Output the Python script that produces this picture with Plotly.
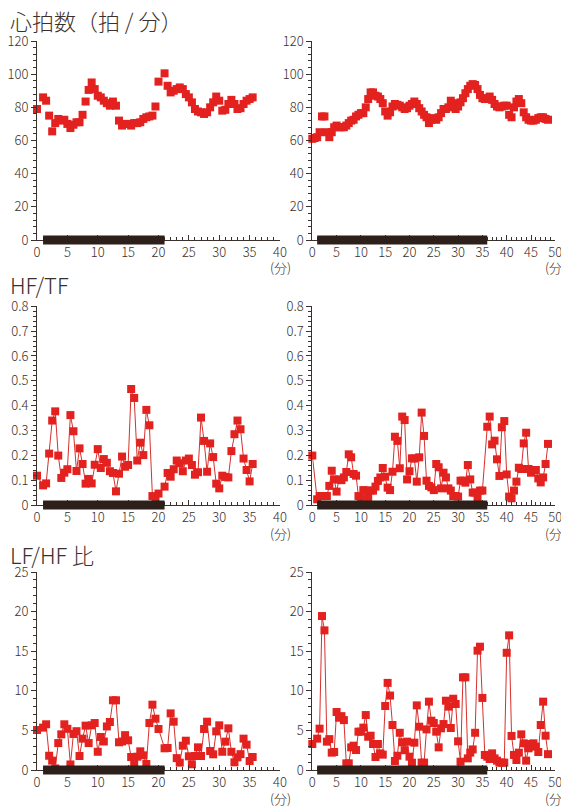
import plotly.graph_objects as go
from plotly.subplots import make_subplots

# ---------------- data ----------------
# left session (40-min axis)
t_left = [0, 1, 1.5, 2, 2.5, 3, 3.5, 4, 4.5, 5,
          5.5, 6, 6.5, 7, 7.5, 8, 8.5, 9, 9.5, 10,
          10.5, 11, 11.5, 12, 12.5, 13, 13.5, 14, 14.5, 15,
          15.5, 16, 16.5, 17, 17.5, 18, 18.5, 19, 19.5, 20,
          21, 21.5, 22, 22.5, 23, 23.5, 24, 24.5, 25, 25.5,
          26, 26.5, 27, 27.5, 28, 28.5, 29, 29.5, 30, 30.5,
          31, 31.5, 32, 32.5, 33, 33.5, 34, 34.5, 35, 35.5]

hr_left = [79, 86, 84, 75, 65.5, 70.5, 73, 72, 72.5, 70,
           67.5, 69.5, 71, 71, 75.5, 83.5, 90.5, 95, 91, 87,
           86, 84, 82.5, 81, 83.5, 81, 72, 69, 70, 70,
           69, 70.5, 70.5, 71, 73, 74, 74.5, 75, 80.5, 95.5,
           100.5, 93, 89, 90, 91, 92, 91, 88, 86, 83,
           79, 77.5, 77, 76, 77, 80, 83, 86.5, 84, 78,
           78.5, 82, 84.5, 82, 79, 79.5, 82, 84, 85, 86]

hftf_left = [0.118, 0.079, 0.087, 0.207, 0.34, 0.377, 0.199, 0.109, 0.13, 0.144,
             0.362, 0.297, 0.137, 0.228, 0.165, 0.086, 0.105, 0.087, 0.162, 0.225,
             0.149, 0.185, 0.17, 0.136, 0.129, 0.055, 0.126, 0.195, 0.154, 0.161,
             0.467, 0.431, 0.179, 0.251, 0.201, 0.383, 0.321, 0.036, 0.03, 0.046,
             0.074, 0.129, 0.114, 0.144, 0.179, 0.168, 0.136, 0.179, 0.187, 0.161,
             0.122, 0.132, 0.352, 0.258, 0.134, 0.248, 0.193, 0.086, 0.067, 0.118,
             0.113, 0.111, 0.217, 0.285, 0.34, 0.305, 0.187, 0.141, 0.095, 0.165]

lfhf_left = [5.05, 5.35, 5.77, 1.8, 1.18, 0.2, 3.4, 4.5, 5.77, 5.2,
             0.7, 4.55, 4.9, 1.77, 3.96, 5.6, 3.4, 5.64, 5.93, 2.3,
             4.17, 3.6, 5.5, 6.06, 8.8, 8.8, 3.5, 3.6, 4.4, 3.75,
             1.64, 0.97, 1.68, 2.36, 1.85, 0.76, 5.93, 8.25, 6.48, 5.18,
             2.74, 2.78, 7.15, 6.1, 1.5, 0.93, 3.07, 3.7, 1.73, 0.72,
             1.77, 2.86, 1.77, 5.18, 6.1, 2.4, 1.98, 4.88, 5.64, 2.3,
             3.58, 5.26, 2.3, 0.97, 1.6, 2.0, 3.96, 3.2, 1.14, 1.64]

# right session (50-min axis)
t_right_hr = [0, 0.5, 1, 1.5, 2, 2.5, 3, 3.5, 4, 4.5,
              5, 5.5, 6, 6.5, 7, 7.5, 8, 8.5, 9, 9.5,
              10, 10.5, 11, 11.5, 12, 12.5, 13, 13.5, 14, 14.5,
              15, 15.5, 16, 16.5, 17, 17.5, 18, 18.5, 19, 19.5,
              20, 20.5, 21, 21.5, 22, 22.5, 23, 23.5, 24, 24.5,
              25, 25.5, 26, 26.5, 27, 27.5, 28, 28.5, 29, 29.5,
              30, 30.5, 31, 31.5, 32, 32.5, 33, 33.5, 34, 34.5,
              35, 35.5, 36, 36.5, 37, 37.5, 38, 38.5, 39, 39.5,
              40, 40.5, 41, 41.5, 42, 42.5, 43, 43.5, 44, 44.5,
              45, 45.5, 46, 46.5, 47, 47.5, 48, 48.5]

hr_right = [61, 61.5, 62, 65, 74.5, 74.5, 65, 62, 65, 68,
            69, 68, 68, 68, 69, 70.5, 72, 72.5, 74.5, 75.5,
            76.5, 76.5, 80, 85, 89, 89, 87, 86.5, 85, 82.5,
            77.5, 75, 77, 80.5, 82, 81.5, 81, 80, 79, 79.5,
            81, 82, 83.5, 82, 79.5, 77.5, 75.5, 74, 70.5, 72.5,
            73.5, 72.5, 74, 76.5, 79, 79, 80, 84, 82.5, 79,
            80.5, 83, 85.5, 88.5, 91, 93, 94, 93.5, 91, 87.5,
            85.5, 85, 85.5, 86.5, 84.5, 82, 80.5, 80, 80.5, 81,
            81, 75.5, 74, 80, 83.5, 85, 82.5, 77, 74, 72.5,
            72, 72, 72.5, 73.5, 74, 74, 73, 72.5]

t_right_hftf = [0,
                1, 1.5, 2, 2.5, 3, 3.5, 4, 4.5, 5,
                5.5, 6, 6.5, 7, 7.5, 8, 8.5, 9, 9.5, 10,
                10.5, 11, 11.5, 12, 12.5, 13, 13.5, 14, 14.5, 15,
                15.5, 16, 16.5, 17, 17.5, 18, 18.5, 19, 19.5, 20,
                20.5, 21, 21.5, 22, 22.5, 23, 23.5, 24, 24.5, 25,
                25.5, 26, 26.5, 27, 27.5, 28, 28.5, 29, 29.5, 30,
                30.5, 31, 31.5, 32, 32.5, 33, 33.5, 34, 34.5, 35,
                36, 36.5, 37, 37.5, 38, 38.5, 39, 39.5, 40, 40.5,
                41, 41.5, 42, 42.5, 43, 43.5, 44, 44.5, 45, 45.5,
                46, 46.5, 47, 47.5, 48, 48.5]

hftf_right = [0.199,
              0.023, 0.036, 0.036, 0.036, 0.036, 0.077, 0.138, 0.103, 0.054,
              0.103, 0.1, 0.111, 0.133, 0.204, 0.192, 0.125, 0.118, 0.036, 0.027,
              0.06, 0.058, 0.031, 0.058, 0.058, 0.074, 0.097, 0.111, 0.149, 0.114,
              0.07, 0.06, 0.134, 0.275, 0.258, 0.148, 0.356, 0.342, 0.103, 0.136,
              0.188, 0.187, 0.094, 0.192, 0.372, 0.278, 0.098, 0.077, 0.071, 0.06,
              0.165, 0.152, 0.067, 0.13, 0.111, 0.067, 0.058, 0.036, 0.036, 0.034,
              0.098, 0.098, 0.09, 0.161, 0.103, 0.05, 0.05, 0.03, 0.058, 0.058,
              0.315, 0.356, 0.244, 0.259, 0.184, 0.117, 0.313, 0.338, 0.123, 0.034,
              0.027, 0.058, 0.094, 0.15, 0.145, 0.248, 0.291, 0.145, 0.13, 0.141,
              0.141, 0.107, 0.091, 0.111, 0.165, 0.246]

t_right_lfhf = [0,
                1, 1.5, 2, 2.5, 3, 3.5, 4, 4.5, 5,
                5.5, 6, 6.5, 7, 7.5, 8, 8.5, 9, 9.5, 10,
                10.5, 11, 11.5, 12, 12.5, 13, 13.5, 14, 14.5, 15,
                15.5, 16, 16.5, 17, 17.5, 18, 18.5, 19, 19.5, 20,
                20.5, 21, 21.5, 22, 22.5, 23, 23.5, 24, 24.5, 25,
                25.5, 26, 26.5, 27, 27.5, 28, 28.5, 29, 29.5, 30,
                30.5, 31, 31.5, 32, 32.5, 33, 33.5, 34, 34.5, 35,
                35.5, 36, 36.5, 37, 37.5, 38, 38.5, 39, 39.5, 40,
                40.5, 41, 41.5, 42, 42.5, 43, 43.5, 44, 44.5, 45,
                45.5, 46, 46.5, 47, 47.5, 48, 48.5]

lfhf_right = [3.28,
              3.96, 5.22, 19.44, 17.63, 3.58, 3.9, 2.19, 2.27, 7.32,
              6.6, 6.8, 6.3, 0.84, 0.84, 2.86, 3.07, 2.52, 4.84, 4.84,
              5.35, 6.94, 4.2, 4.33, 3.28, 1.64, 3.28, 2.1, 1.94, 8.08,
              11.0, 9.4, 5.68, 1.14, 1.8, 4.7, 3.5, 2.5, 3.58, 1.68,
              0.93, 3.45, 8.16, 5.47, 0.93, 0.93, 5.13, 8.63, 6.23, 5.93,
              4.84, 2.86, 5.26, 5.8, 8.75, 8.0, 5.3, 9.0, 8.33, 3.62,
              1.05, 11.7, 11.7, 1.47, 2.19, 2.6, 4.7, 15.07, 15.57, 9.1,
              1.9, 1.68, 1.39, 2.1, 1.47, 1.18, 0.93, 0.93, 0.93, 14.8,
              17.0, 4.3, 1.9, 1.26, 2.19, 4.5, 3.37, 1.18, 2.74, 3.28,
              3.37, 2.95, 2.27, 5.68, 8.63, 4.33, 2.0]

# stimulation periods (minutes) shown as the black bar
stim_left = [1, 21]
stim_right = [1, 36]

row_titles = ["心拍数（拍 / 分）", "HF/TF", "LF/HF 比"]
x_unit = "(分)"

# ---------------- style ----------------
RED = "#e3221f"
LINE_RED = "#d6302c"
BAR = "#2d1f19"
TXT = "#3a302c"
FONT = "Noto Sans CJK JP"

W, H = 569, 807
OFF = 8  # page body margin in the browser

fig = make_subplots(rows=3, cols=2)

col_px = [(37, 280), (312.3, 555.3)]
row_px = [(41, 240), (306.3, 505), (572, 770)]

panels = [
    (1, 1, t_left, hr_left, "markers", [0, 40], [0, 120], 20, 4, stim_left),
    (1, 2, t_right_hr, hr_right, "markers", [0, 50], [0, 120], 20, 4, stim_right),
    (2, 1, t_left, hftf_left, "lines+markers", [0, 40], [0, 0.8], 0.1, 0.02, stim_left),
    (2, 2, t_right_hftf, hftf_right, "lines+markers", [0, 50], [0, 0.8], 0.1, 0.02, stim_right),
    (3, 1, t_left, lfhf_left, "lines+markers", [0, 40], [0, 25], 5, 1, stim_left),
    (3, 2, t_right_lfhf, lfhf_right, "lines+markers", [0, 50], [0, 25], 5, 1, stim_right),
]

for i, (r, c, xs, ys, mode, xr, yr, ydt, ymin, stim) in enumerate(panels):
    assert len(xs) == len(ys)
    fig.add_trace(go.Scatter(
        x=xs, y=ys, mode=mode,
        marker=dict(symbol="square", size=8, color=RED, line=dict(width=0)),
        line=dict(color=LINE_RED, width=1),
        cliponaxis=False, showlegend=False, hoverinfo="skip"), row=r, col=c)

    idx = i + 1
    xname = "xaxis" if idx == 1 else f"xaxis{idx}"
    yname = "yaxis" if idx == 1 else f"yaxis{idx}"
    x0p, x1p = [v - OFF for v in col_px[c - 1]]
    y0p, y1p = [v - OFF for v in row_px[r - 1]]
    fig.layout[xname].update(
        domain=[x0p / W, x1p / W], range=xr, tick0=0, dtick=5,
        ticks="inside", ticklen=5, tickwidth=1, tickcolor=TXT,
        showline=True, linecolor=TXT, linewidth=1,
        showgrid=False, zeroline=False, automargin=False,
        tickfont=dict(family=FONT, size=13, color=TXT, weight=300),
        minor=dict(dtick=1, ticks="inside", ticklen=3, tickcolor=TXT, showgrid=False),
        fixedrange=True)
    fig.layout[yname].update(
        domain=[1 - y1p / H, 1 - y0p / H], range=yr, tick0=0, dtick=ydt,
        ticks="outside", ticklen=5, tickwidth=1, tickcolor=TXT,
        showline=True, linecolor=TXT, linewidth=1,
        showgrid=False, zeroline=False, automargin=False,
        tickfont=dict(family=FONT, size=13, color=TXT, weight=300),
        minor=dict(dtick=ymin, ticks="outside", ticklen=3, tickcolor=TXT, showgrid=False),
        fixedrange=True)

    xref = "x" if idx == 1 else f"x{idx}"
    yref = "y" if idx == 1 else f"y{idx}"
    # stimulation bar
    fig.add_shape(type="rect", xref=xref, yref=f"{yref} domain",
                  x0=stim[0], x1=stim[1], ysizemode="pixel", yanchor=0,
                  y0=-4.5, y1=4.5, fillcolor=BAR, line=dict(width=0), layer="above")
    # unit label
    fig.add_annotation(text=x_unit, xref=xref, yref=f"{yref} domain",
                       x=xr[1], y=0, yshift=-28, xanchor="center", yanchor="middle",
                       showarrow=False, font=dict(family=FONT, size=13, color=TXT, weight=300))

title_y = [20, 284, 554]
for txt, ty in zip(row_titles, title_y):
    fig.add_annotation(text=txt, xref="paper", yref="paper", x=(8 - OFF) / W,
                       y=1 - (ty - OFF) / H,
                       xanchor="left", yanchor="middle", showarrow=False,
                       font=dict(family=FONT, size=22, color=TXT, weight=300))

fig.update_layout(width=W, height=H, margin=dict(l=0, r=0, t=0, b=0, autoexpand=False),
                  paper_bgcolor="white", plot_bgcolor="white",
                  font=dict(family=FONT, color=TXT))

fig.write_html("out.html")
